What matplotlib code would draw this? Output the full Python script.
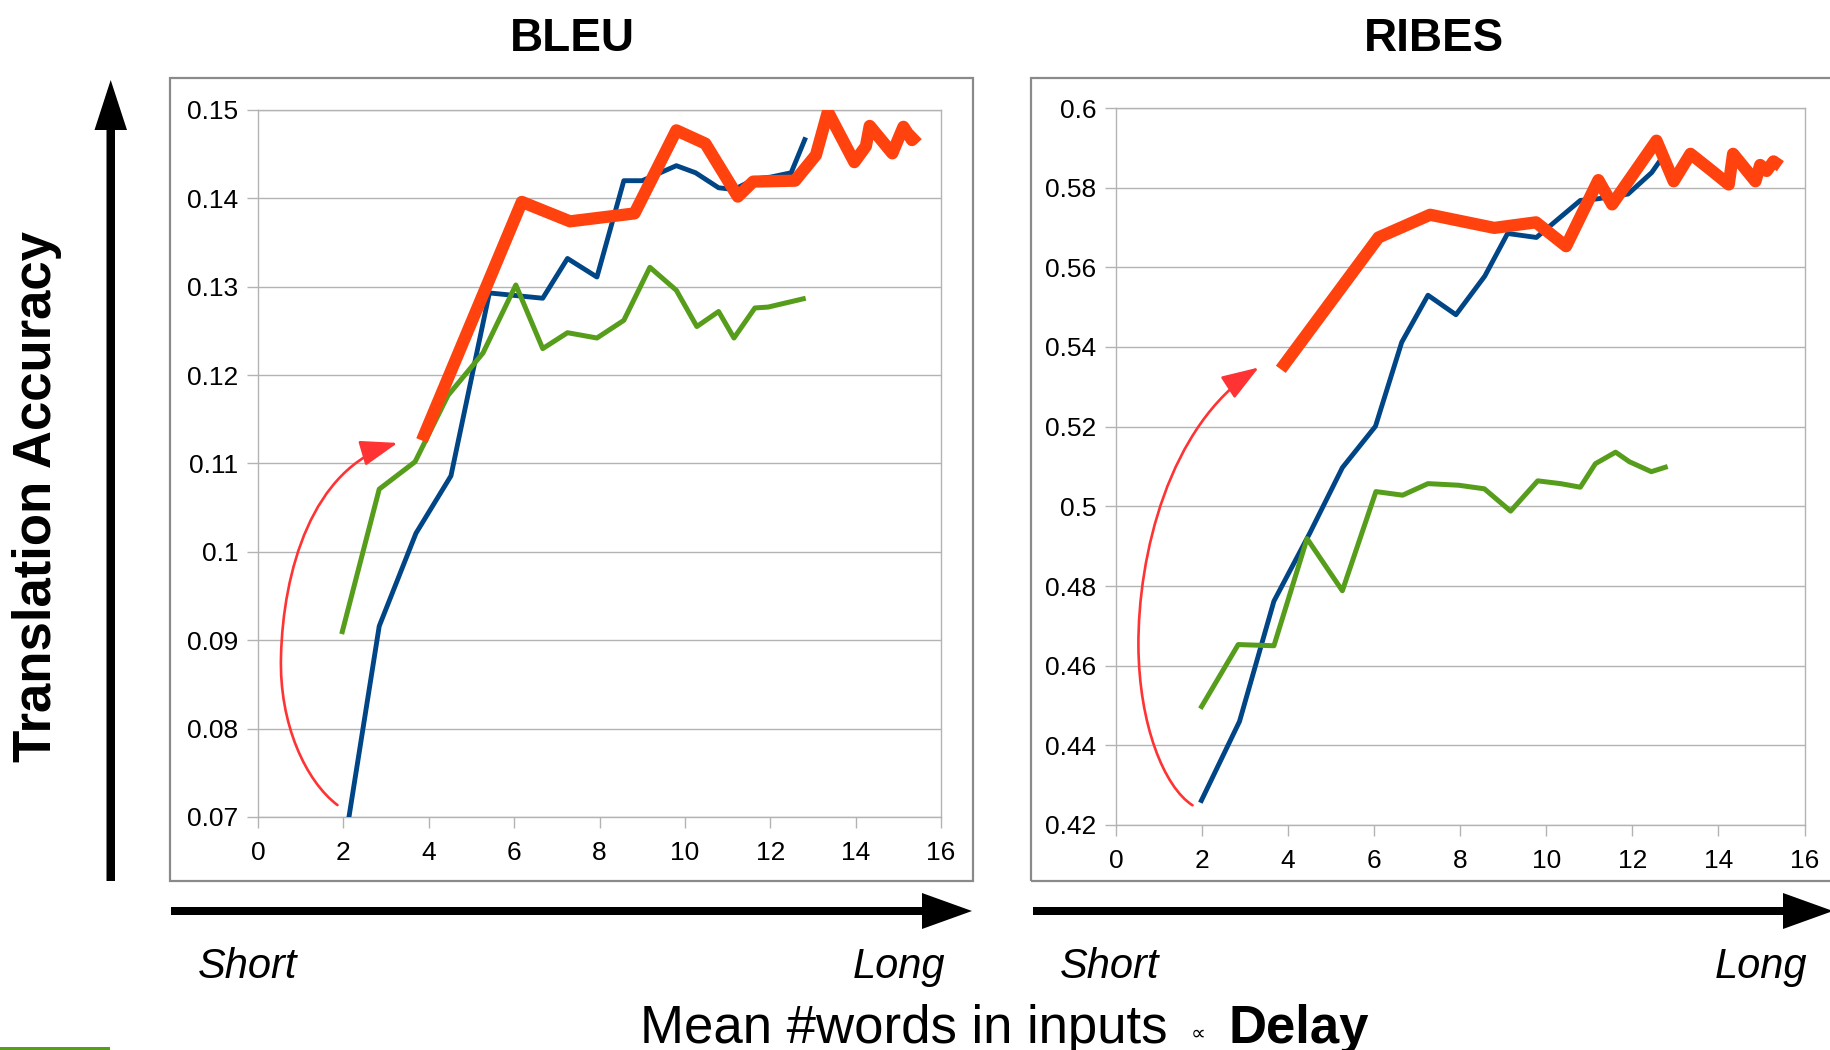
import matplotlib
matplotlib.use("Agg")
import matplotlib.pyplot as plt
from matplotlib.patches import Rectangle, Polygon, FancyArrowPatch
from matplotlib.path import Path

plt.rcParams['font.family'] = ['Liberation Sans', 'DejaVu Sans']

# ---------------- data ----------------
x_ticks = [0, 2, 4, 6, 8, 10, 12, 14, 16]

bleu_ticks = [0.07, 0.08, 0.09, 0.10, 0.11, 0.12, 0.13, 0.14, 0.15]
bleu_tick_labels = ["0.07", "0.08", "0.09", "0.1", "0.11", "0.12", "0.13", "0.14", "0.15"]

ribes_ticks = [0.42, 0.44, 0.46, 0.48, 0.50, 0.52, 0.54, 0.56, 0.58, 0.60]
ribes_tick_labels = ["0.42", "0.44", "0.46", "0.48", "0.5", "0.52", "0.54", "0.56", "0.58", "0.6"]

# BLEU
bleu_blue_x = [1.96, 2.84, 3.70, 4.52, 5.42, 6.67, 7.25, 7.94, 8.57, 9.00, 9.80, 10.25,
               10.79, 11.15, 11.64, 12.00, 12.49, 12.83]
bleu_blue_y = [0.0648, 0.0916, 0.1021, 0.1086, 0.1293, 0.1287, 0.1332, 0.1311, 0.1420, 0.1420,
               0.1437, 0.1429, 0.1412, 0.1410, 0.1422, 0.1424, 0.1429, 0.1469]

bleu_green_x = [1.96, 2.84, 3.68, 4.45, 5.27, 6.04, 6.67, 7.25, 7.94, 8.57, 9.18, 9.80,
                10.28, 10.79, 11.15, 11.64, 11.95, 12.83]
bleu_green_y = [0.0907, 0.1071, 0.1102, 0.1177, 0.1225, 0.1302, 0.1230, 0.1248, 0.1242,
                0.1262, 0.1322, 0.1296, 0.1255, 0.1272, 0.1242, 0.1276, 0.1277, 0.1287]

bleu_red_x = [3.84, 6.18, 7.31, 8.82, 9.80, 10.48, 11.24, 11.60, 12.58, 13.07, 13.35,
              13.97, 14.24, 14.33, 14.86, 15.05, 15.12, 15.32, 15.45]
bleu_red_y = [0.1126, 0.1396, 0.1374, 0.1383, 0.1477, 0.1462, 0.1402, 0.1419, 0.1420,
              0.1449, 0.1498, 0.1441, 0.1459, 0.1482, 0.1451, 0.1473, 0.1481, 0.1466, 0.1472]

# RIBES
ribes_blue_x = [1.96, 2.87, 3.67, 4.50, 5.26, 6.03, 6.64, 7.25, 7.90, 8.57, 9.10, 9.77,
                10.24, 10.79, 11.19, 11.90, 12.45, 12.65]
ribes_blue_y = [0.4256, 0.4460, 0.4762, 0.4932, 0.5097, 0.5201, 0.5412, 0.5530, 0.5481,
                0.5578, 0.5685, 0.5675, 0.5718, 0.5768, 0.5772, 0.5784, 0.5838, 0.5869]

ribes_green_x = [1.96, 2.84, 3.67, 4.44, 5.26, 6.04, 6.66, 7.25, 7.96, 8.56, 9.17, 9.80,
                 10.33, 10.79, 11.14, 11.61, 11.93, 12.44, 12.82]
ribes_green_y = [0.4492, 0.4653, 0.4650, 0.4919, 0.4788, 0.5037, 0.5028, 0.5057, 0.5053,
                 0.5044, 0.4988, 0.5064, 0.5057, 0.5048, 0.5107, 0.5136, 0.5112, 0.5087, 0.5100]

ribes_red_x = [3.83, 6.10, 7.30, 8.79, 9.76, 10.46, 11.21, 11.53, 12.56, 12.96, 13.35,
               13.84, 14.24, 14.34, 14.86, 14.97, 15.12, 15.28, 15.44]
ribes_red_y = [0.5344, 0.5675, 0.5732, 0.5699, 0.5713, 0.5653, 0.5819, 0.5758, 0.5918,
               0.5816, 0.5885, 0.5843, 0.5808, 0.5885, 0.5816, 0.5857, 0.5842, 0.5866, 0.5854]

# curved "jump" arrows (cubic bezier control points, data units)
bleu_curve = [(1.862, 0.07135), (1.127, 0.07401), (0.490, 0.08051), (0.539, 0.08820),
              (0.588, 0.09766), (1.250, 0.10949), (3.271, 0.11233)]
ribes_curve = [(1.778, 0.42495), (1.114, 0.42955), (0.533, 0.44531), (0.521, 0.46500),
               (0.510, 0.48733), (1.209, 0.52016), (3.319, 0.53487)]

BLUE = '#004586'
RED = '#ff420e'
GREEN = '#579d1c'
ARROW = '#ff3333'
GRID = '#b3b3b3'

W, H = 1830, 1050
fig = plt.figure(figsize=(W / 100, H / 100), dpi=100)


def fx(px):
    return px / W


def fy(py):
    return 1 - py / H


# chart frames
for x0, x1 in [(170, 973), (1031, 1845)]:
    fig.add_artist(Rectangle((fx(x0), fy(881)), fx(x1) - fx(x0), fy(78) - fy(881),
                             transform=fig.transFigure, fill=False,
                             edgecolor='#8a8a8a', linewidth=1.6))


def setup(ax, ticks, labels):
    ax.set_xlim(0, 16)
    ax.set_ylim(ticks[0], ticks[-1])
    ax.set_xticks(x_ticks)
    ax.set_xticklabels([str(t) for t in x_ticks])
    ax.set_yticks(ticks)
    ax.set_yticklabels(labels)
    ax.grid(axis='y', color=GRID, linewidth=1.0)
    ax.set_axisbelow(True)
    for s in ax.spines.values():
        s.set_color(GRID)
        s.set_linewidth(1.0)
    ax.tick_params(direction='out', length=8, width=1.0, color=GRID,
                   labelsize=19, labelcolor='black')
    ax.tick_params(axis='x', pad=9)
    ax.tick_params(axis='y', pad=6)


def curve_arrow(ax, pts):
    codes = [Path.MOVETO] + [Path.CURVE4] * 6
    arr = FancyArrowPatch(path=Path(pts, codes),
                          arrowstyle='-|>,head_length=1.15,head_width=0.4',
                          mutation_scale=20, color=ARROW, linewidth=1.9,
                          transform=ax.transData, zorder=6)
    ax.add_patch(arr)


def draw_series(ax, bx, by, gx, gy, rx, ry):
    ax.plot(bx, by, color=BLUE, lw=3.5, solid_joinstyle='round', solid_capstyle='butt', zorder=3)
    ax.plot(gx, gy, color=GREEN, lw=3.6, solid_joinstyle='round', solid_capstyle='butt', zorder=3)
    ax.plot(rx, ry, color=RED, lw=8.8, solid_joinstyle='round', solid_capstyle='butt', zorder=4)


ax1 = fig.add_axes([fx(258), fy(817), fx(941) - fx(258), fy(110) - fy(817)])
setup(ax1, bleu_ticks, bleu_tick_labels)
draw_series(ax1, bleu_blue_x, bleu_blue_y, bleu_green_x, bleu_green_y, bleu_red_x, bleu_red_y)
curve_arrow(ax1, bleu_curve)

ax2 = fig.add_axes([fx(1116), fy(825), fx(1804.5) - fx(1116), fy(108) - fy(825)])
setup(ax2, ribes_ticks, ribes_tick_labels)
draw_series(ax2, ribes_blue_x, ribes_blue_y, ribes_green_x, ribes_green_y, ribes_red_x, ribes_red_y)
curve_arrow(ax2, ribes_curve)

# titles
fig.text(fx(572), fy(51), "BLEU", ha='center', va='baseline', fontsize=33, fontweight='bold')
fig.text(fx(1434), fy(51), "RIBES", ha='center', va='baseline', fontsize=33, fontweight='bold')

# vertical accuracy arrow
fig.add_artist(Polygon([(fx(106.5), fy(881)), (fx(115), fy(881)), (fx(115), fy(130)),
                        (fx(127), fy(130)), (fx(110.7), fy(80)), (fx(94.5), fy(130)),
                        (fx(106.5), fy(130))],
                       closed=True, transform=fig.transFigure, facecolor='black', edgecolor='none'))
fig.text(fx(37), fy(496), "Translation Accuracy", rotation=90, ha='center', va='center',
         fontsize=38, fontweight='bold')

# horizontal delay arrows
for x0, xb, xt in [(171, 922, 972), (1033, 1783, 1833)]:
    fig.add_artist(Polygon([(fx(x0), fy(907)), (fx(xb), fy(907)), (fx(xb), fy(893)),
                            (fx(xt), fy(911)), (fx(xb), fy(929)), (fx(xb), fy(915)),
                            (fx(x0), fy(915))],
                           closed=True, transform=fig.transFigure, facecolor='black', edgecolor='none'))

for xs, xl in [(198, 945), (1060, 1807)]:
    fig.text(fx(xs), fy(978), "Short", ha='left', va='baseline', fontsize=30, style='italic')
    fig.text(fx(xl), fy(978), "Long", ha='right', va='baseline', fontsize=30, style='italic')

fig.text(fx(1168), fy(1043), "Mean #words in inputs", ha='right', va='baseline', fontsize=38)
fig.text(fx(1198), fy(1040), "\u221d", ha='center', va='baseline', fontsize=15,
         family=['DejaVu Sans'])
fig.text(fx(1229), fy(1043), "Delay", ha='left', va='baseline', fontsize=38, fontweight='bold')

# green strip at bottom left
fig.add_artist(Rectangle((0, 0), fx(110), 3 / H, transform=fig.transFigure,
                         facecolor=GREEN, edgecolor='none'))

fig.savefig("out.png", dpi=100, facecolor='white')
